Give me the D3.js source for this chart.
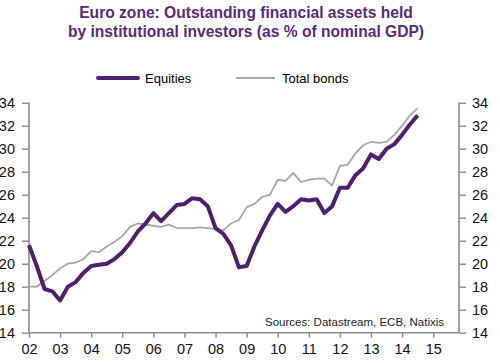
<!DOCTYPE html>
<html>
<head>
<meta charset="utf-8">
<script src="https://cdn.jsdelivr.net/npm/d3@7"></script>
<style>
  body { margin: 0; background: #fff; }
  text { font-family: "Liberation Sans", Arial, sans-serif; }
</style>
</head>
<body>
<script>
// quarterly, 2002 Q1 .. 2014 Q3
var equities = [21.6, 19.8, 17.8, 17.6, 16.8, 18.0, 18.4, 19.2, 19.8, 19.9, 20.0, 20.4,
  21.0, 21.8, 22.8, 23.5, 24.4, 23.7, 24.4, 25.1, 25.2, 25.7, 25.6, 25.0,
  23.1, 22.6, 21.6, 19.7, 19.8, 21.5, 22.9, 24.2, 25.2, 24.5, 25.0, 25.6,
  25.5, 25.6, 24.4, 25.0, 26.6, 26.6, 27.7, 28.3, 29.5, 29.1, 30.0, 30.4,
  31.2, 32.1, 32.9];
var bonds = [18.0, 18.0, 18.5, 19.0, 19.6, 20.0, 20.1, 20.4, 21.1, 21.0, 21.5, 21.9,
  22.4, 23.2, 23.5, 23.4, 23.3, 23.2, 23.4, 23.1, 23.1, 23.1, 23.15, 23.1,
  23.0, 22.9, 23.5, 23.8, 24.9, 25.2, 25.8, 26.0, 27.3, 27.2, 27.9, 27.1,
  27.3, 27.4, 27.4, 26.8, 28.5, 28.6, 29.6, 30.3, 30.6, 30.5, 30.6, 31.2,
  32.0, 32.9, 33.5];
var yearTicks = [2002, 2003, 2004, 2005, 2006, 2007, 2008, 2009, 2010, 2011, 2012, 2013, 2014, 2015];
var yTicks = [14, 16, 18, 20, 22, 24, 26, 28, 30, 32, 34];

var width = 500, height = 363;
var plotL = 29, plotR = 459, plotT = 102.7, plotB = 332.7;

var svg = d3.select("body").append("svg")
  .attr("width", width)
  .attr("height", height);

var x = d3.scaleLinear().domain([2002, 2015.83]).range([plotL, plotR]);
var y = d3.scaleLinear().domain([14, 34]).range([plotB, plotT]);

// title
var purple = "#5a2a78";
svg.append("text").attr("x", 246).attr("y", 18).attr("text-anchor", "middle")
  .attr("font-size", 15.6).attr("font-weight", "bold").attr("fill", purple)
  .text("Euro zone: Outstanding financial assets held");
svg.append("text").attr("x", 246).attr("y", 37).attr("text-anchor", "middle")
  .attr("font-size", 15.6).attr("font-weight", "bold").attr("fill", purple)
  .text("by institutional investors (as % of nominal GDP)");

// legend
svg.append("line").attr("x1", 98).attr("x2", 138).attr("y1", 78).attr("y2", 78)
  .attr("stroke", "#4e1f6e").attr("stroke-width", 4).attr("stroke-linecap", "round");
svg.append("text").attr("x", 145).attr("y", 82.5).attr("font-size", 13).text("Equities");
svg.append("line").attr("x1", 236).attr("x2", 275).attr("y1", 78).attr("y2", 78)
  .attr("stroke", "#a6a6a6").attr("stroke-width", 2);
svg.append("text").attr("x", 282).attr("y", 82.5).attr("font-size", 13).text("Total bonds");

// axes
var axisColor = "#8a8a8a";
var gl = svg.append("g").attr("transform", "translate(" + plotL + ",0)")
  .call(d3.axisLeft(y).tickValues(yTicks).tickSize(7).tickPadding(14));
var gr = svg.append("g").attr("transform", "translate(" + plotR + ",0)")
  .call(d3.axisRight(y).tickValues(yTicks).tickSize(7).tickPadding(6));
var gx = svg.append("g").attr("transform", "translate(0," + plotB + ")")
  .call(d3.axisBottom(x).tickValues(yearTicks).tickSize(5).tickPadding(6)
    .tickFormat(function(d){ return String(d).slice(2); }));

[gl, gr, gx].forEach(function(g){
  g.select(".domain").attr("stroke", axisColor).attr("stroke-width", 1.6);
  g.selectAll(".tick line").attr("stroke", axisColor).attr("stroke-width", 1.4);
  g.selectAll(".tick text").attr("font-size", 14.5).attr("fill", "#111")
    .attr("font-family", "Liberation Sans, Arial, sans-serif");
});
gl.selectAll(".tick text").attr("text-anchor", "end").attr("x", -14);
gl.select(".domain").attr("d", "M0," + plotT + "V" + plotB);
gr.select(".domain").attr("d", "M0," + plotT + "V" + plotB);
gx.select(".domain").attr("d", "M" + plotL + ",0H" + plotR);

// lines
var line = d3.line()
  .x(function(d, i){ return x(2002 + i * 0.25); })
  .y(function(d){ return y(d); });

svg.append("path").datum(bonds).attr("d", line)
  .attr("fill", "none").attr("stroke", "#a6a6a6").attr("stroke-width", 1.8)
  .attr("stroke-linejoin", "round");
svg.append("path").datum(equities).attr("d", line)
  .attr("fill", "none").attr("stroke", "#4e1f6e").attr("stroke-width", 4)
  .attr("stroke-linejoin", "round");

svg.append("text").attr("x", 444).attr("y", 326).attr("text-anchor", "end")
  .attr("font-size", 11.5).attr("fill", "#222")
  .text("Sources: Datastream, ECB, Natixis");
</script>
</body>
</html>
